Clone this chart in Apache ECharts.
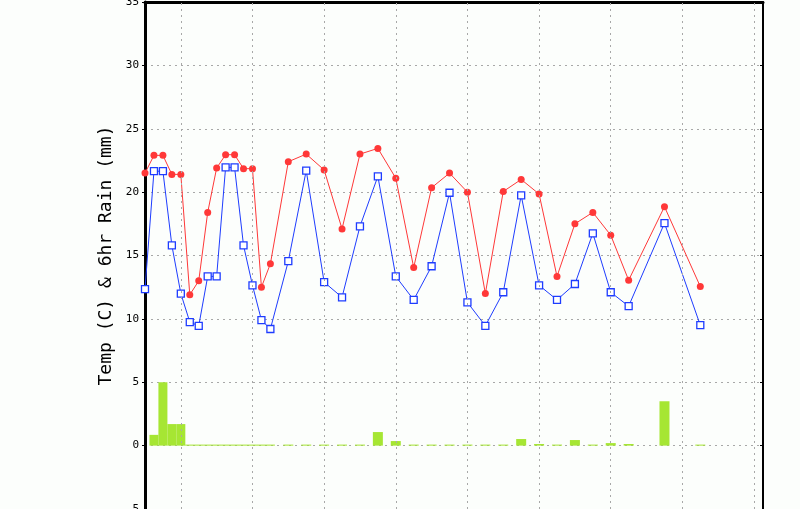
<!DOCTYPE html>
<html>
<head>
<meta charset="utf-8">
<script src="https://cdn.jsdelivr.net/npm/echarts@6/dist/echarts.min.js"></script>
<style>
html,body{margin:0;padding:0;background:#fcfefc;}
#c{width:800px;height:509px;}
</style>
</head>
<body>
<div id="c"></div>
<script>
// Forecast hours (from first point) for temperature points
const hours = [0,3,6,9,12,15,18,21,24,27,30,33,36,39,42,48,54,60,66,72,78,84,90,96,102,108,114,120,126,132,138,144,150,156,162,174,186];
// Red series (temperature)
const tempRed = [21.5,22.9,22.9,21.4,21.4,11.9,13.0,18.4,21.9,22.95,22.95,21.85,21.85,12.5,14.35,22.4,23.0,21.75,17.1,23.0,23.45,21.1,14.05,20.35,21.5,20.0,12.0,20.05,21.0,19.85,13.35,17.5,18.4,16.6,13.05,18.85,12.55];
// Blue series
const tempBlue = [12.35,21.65,21.65,15.8,12.0,9.75,9.45,13.35,13.35,21.95,21.95,15.8,12.65,9.9,9.2,14.55,21.7,12.9,11.7,17.3,21.25,13.35,11.5,14.15,19.95,11.3,9.45,12.1,19.75,12.65,11.5,12.75,16.75,12.1,11.0,17.55,9.5];
// Rain bars (3-hourly section)
const rainHours3 = [3,6,9,12,15,18,21,24,27,30,33,36,39,42];
const rain3 = [0.85,5.0,1.7,1.7,0.08,0.08,0.08,0.08,0.08,0.08,0.08,0.08,0.08,0.08];
// Rain bars (6-hourly section)
const rainHours6 = [48,54,60,66,72,78,84,90,96,102,108,114,120,126,132,138,144,150,156,162,174,186];
const rain6 = [0.08,0.08,0.08,0.08,0.08,1.07,0.36,0.08,0.08,0.08,0.08,0.08,0.08,0.52,0.13,0.08,0.44,0.08,0.2,0.13,3.5,0.08];
// Day boundary gridlines (hours)
const dayLines = [12,36,60,84,108,132,156,180,204];
// Y axis ticks
const yMin = -5, yMax = 35, yStep = 5;

const zip = (xs, ys) => xs.map((x, i) => [x, ys[i]]);
const gridColor = '#a8a8a8';

const chart = echarts.init(document.getElementById('c'), null, {renderer: 'canvas'});
chart.setOption({
  animation: false,
  backgroundColor: '#fcfefc',
  grid: {left: 145, right: 37, top: 2, bottom: 0, containLabel: false, outerBoundsMode: 'none'},
  xAxis: [
    {type: 'value', min: 0, max: 207, position: 'top',
     axisLine: {show: true, onZero: false, lineStyle: {color: '#000', width: 3}},
     axisTick: {show: false}, axisLabel: {show: false}, splitLine: {show: false}},
    {type: 'value', min: 0, max: 207, position: 'bottom', show: false,
     axisLine: {show: false, onZero: false},
     splitLine: {show: false}}
  ],
  yAxis: [
    {type: 'value', min: yMin, max: yMax, interval: yStep, position: 'left',
     name: 'Temp (C) & 6hr Rain (mm)', nameLocation: 'middle', nameGap: 30,
     nameTextStyle: {fontFamily: 'DejaVu Sans Mono', fontSize: 18, color: '#000'},
     axisLine: {show: true, onZero: false, lineStyle: {color: '#000', width: 3}},
     axisTick: {show: true, inside: false, length: 3, lineStyle: {color: '#000'}},
     axisLabel: {margin: 6, fontFamily: 'DejaVu Sans Mono', fontSize: 11, color: '#000'},
     splitLine: {show: true, lineStyle: {color: gridColor, type: [2, 4], width: 1}}},
    {type: 'value', min: yMin, max: yMax, interval: yStep, position: 'right',
     axisLine: {show: true, onZero: false, lineStyle: {color: '#000', width: 2}},
     axisTick: {show: true, inside: true, length: 3, lineStyle: {color: '#000'}},
     axisLabel: {show: false}, splitLine: {show: false}}
  ],
  series: [
    {type: 'bar', xAxisIndex: 0, yAxisIndex: 0, barWidth: 9,
     itemStyle: {color: '#a6e633'}, data: zip(rainHours3, rain3), z: 1},
    {type: 'bar', xAxisIndex: 1, yAxisIndex: 0, barWidth: 10,
     itemStyle: {color: '#a6e633'}, data: zip(rainHours6, rain6), z: 1},
    {type: 'line', xAxisIndex: 0, yAxisIndex: 0, data: zip(hours, tempBlue),
     symbol: 'rect', symbolSize: 7, showAllSymbol: true,
     lineStyle: {color: '#1e3cff', width: 1},
     itemStyle: {color: '#ffffff', borderColor: '#1e3cff', borderWidth: 1.3}, z: 3},
    {type: 'line', xAxisIndex: 0, yAxisIndex: 0, data: zip(hours, tempRed),
     symbol: 'circle', symbolSize: 7, showAllSymbol: true,
     lineStyle: {color: '#ff3838', width: 1},
     itemStyle: {color: '#ff3838', borderWidth: 0}, z: 4,
     markLine: {silent: true, symbol: ['none', 'none'], label: {show: false},
       lineStyle: {color: gridColor, type: [2, 4], width: 1},
       emphasis: {disabled: true},
       data: dayLines.map(v => ({xAxis: v}))}}
  ]
});
</script>
</body>
</html>
